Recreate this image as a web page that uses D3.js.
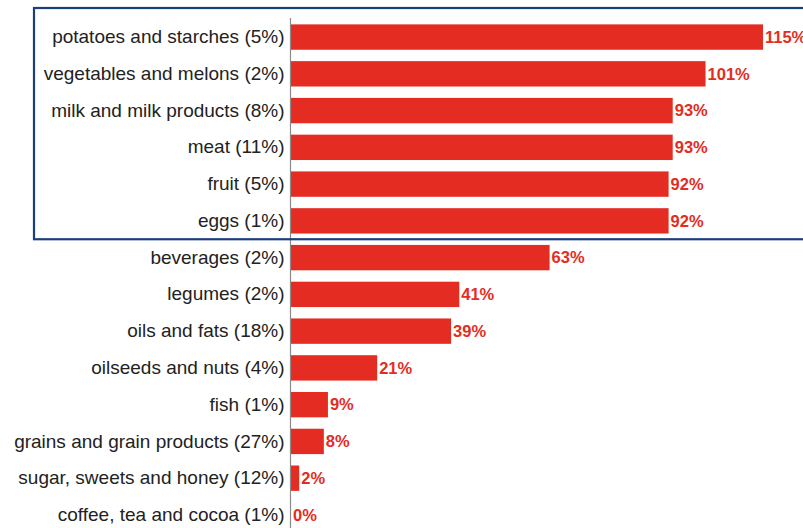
<!DOCTYPE html>
<html>
<head>
<meta charset="utf-8">
<script src="https://cdn.jsdelivr.net/npm/d3@7"></script>
<style>
  html, body { margin: 0; padding: 0; background: #fff; }
  svg { display: block; }
</style>
</head>
<body>
<svg id="chart" width="803" height="528"></svg>
<script>
// Food groups with their share in parentheses, and the percentage value of each bar
const categories = [
  "potatoes and starches (5%)",
  "vegetables and melons (2%)",
  "milk and milk products (8%)",
  "meat (11%)",
  "fruit (5%)",
  "eggs (1%)",
  "beverages (2%)",
  "legumes (2%)",
  "oils and fats (18%)",
  "oilseeds and nuts (4%)",
  "fish (1%)",
  "grains and grain products (27%)",
  "sugar, sweets and honey (12%)",
  "coffee, tea and cocoa (1%)"
];
const values = [115, 101, 93, 93, 92, 92, 63, 41, 39, 21, 9, 8, 2, 0];
// Number of leading rows enclosed by the highlight frame
const highlightedCount = 6;

const svg = d3.select("#chart");
const axisX = 291;

const x = d3.scaleLinear().domain([0, 115]).range([axisX, 763]);
const y = d3.scaleBand()
  .domain(categories)
  .range([18.5, 533.5])
  .paddingInner(0.31)
  .paddingOuter(0.16);

// Bars
svg.append("g").selectAll("rect")
  .data(categories)
  .join("rect")
  .attr("x", x(0))
  .attr("y", d => y(d))
  .attr("width", (d, i) => x(values[i]) - x(0))
  .attr("height", y.bandwidth())
  .attr("fill", "#e42c22");

// Category axis on the left
const yAxis = d3.axisLeft(y).tickSize(0).tickPadding(6);
const gAxis = svg.append("g")
  .attr("transform", `translate(${axisX - 0.5},0)`)
  .call(yAxis);
gAxis.select(".domain").remove();
gAxis.selectAll("text")
  .attr("font-family", "Liberation Sans, Arial, sans-serif")
  .attr("font-size", 19)
  .attr("fill", "#222");

// Vertical baseline
svg.append("line")
  .attr("x1", axisX - 0.5).attr("x2", axisX - 0.5)
  .attr("y1", 18).attr("y2", 528)
  .attr("stroke", "#8a8a8a")
  .attr("stroke-width", 1.2);

// Value labels
svg.append("g").selectAll("text")
  .data(categories)
  .join("text")
  .attr("x", (d, i) => x(values[i]) + 2)
  .attr("y", d => y(d) + y.bandwidth() / 2)
  .attr("dy", "0.35em")
  .attr("font-family", "Liberation Sans, Arial, sans-serif")
  .attr("font-size", 16.5)
  .attr("font-weight", "bold")
  .attr("fill", "#e42c22")
  .text((d, i) => values[i] + "%");

// Highlight frame around the leading rows
const lastHighlighted = categories[highlightedCount - 1];
const frameBottom = y(lastHighlighted) + y.bandwidth() + (y.step() - y.bandwidth()) / 2;
svg.append("rect")
  .attr("x", 34)
  .attr("y", 8)
  .attr("width", 803)
  .attr("height", frameBottom - 8)
  .attr("fill", "none")
  .attr("stroke", "#1c3f7c")
  .attr("stroke-width", 2.2);
</script>
</body>
</html>
